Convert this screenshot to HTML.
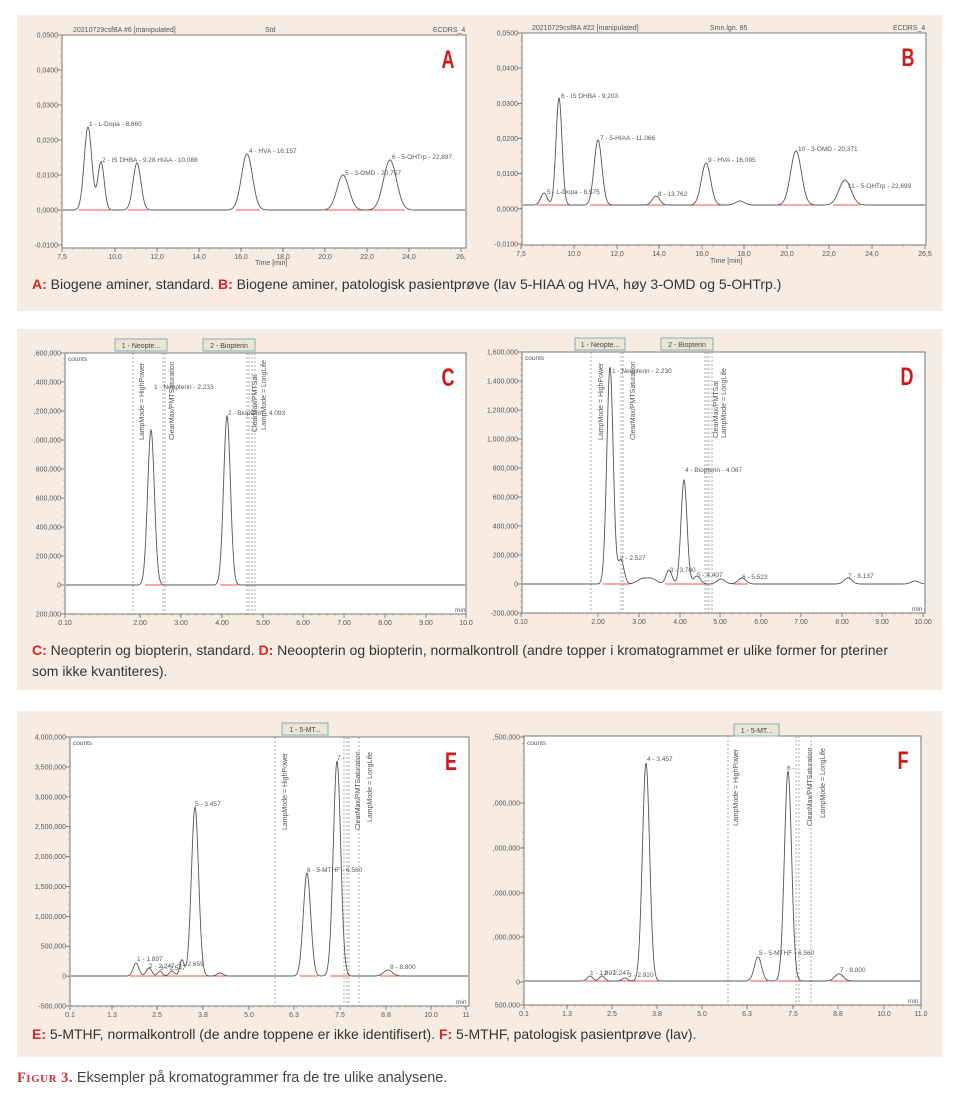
<!DOCTYPE html>
<html><head><meta charset="utf-8">
<style>
html,body{margin:0;padding:0;background:#fff;}
svg{display:block;font-family:"Liberation Sans",sans-serif;}
</style></head>
<body>
<svg id="s" width="960" height="1104" viewBox="0 0 960 1104" xmlns="http://www.w3.org/2000/svg">
<rect x="17" y="15" width="925" height="296" fill="#f8ece2"/>
<rect x="17" y="329" width="925" height="361" fill="#f8ece2"/>
<rect x="17" y="711" width="925" height="346" fill="#f8ece2"/>
<g id="charts"></g>
<g font-size="14" fill="#333">
<text x="32" y="289"><tspan fill="#d22" font-weight="bold">A:</tspan> Biogene aminer, standard. <tspan fill="#d22" font-weight="bold">B:</tspan> Biogene aminer, patologisk pasientprøve (lav 5-HIAA og HVA, høy 3-OMD og 5-OHTrp.)</text>
<text x="32" y="655"><tspan fill="#d22" font-weight="bold">C:</tspan> Neopterin og biopterin, standard. <tspan fill="#d22" font-weight="bold">D:</tspan> Neoopterin og biopterin, normalkontroll (andre topper i kromatogrammet er ulike former for pteriner</text>
<text x="32" y="676">som ikke kvantiteres).</text>
<text x="32" y="1039"><tspan fill="#d22" font-weight="bold">E:</tspan> 5-MTHF, normalkontroll (de andre toppene er ikke identifisert). <tspan fill="#d22" font-weight="bold">F:</tspan> 5-MTHF, patologisk pasientprøve (lav).</text>
</g>
<text x="17" y="1082" font-size="14.4" fill="#444"><tspan fill="#c33" font-family="Liberation Serif,serif" font-weight="bold" letter-spacing="0.5">F<tspan font-size="11">IGUR</tspan> 3.</tspan> Eksempler på kromatogrammer fra de tre ulike analysene.</text>
</svg>
<script>
var NS="http://www.w3.org/2000/svg",G=document.getElementById("charts");
function el(t,a,txt){var e=document.createElementNS(NS,t);for(var k in a)e.setAttribute(k,a[k]);if(txt!==undefined)e.textContent=txt;G.appendChild(e);return e;}
function chart(c){
 el("rect",{x:c.x0,y:c.y0,width:c.x1-c.x0,height:c.y1-c.y0,fill:"#fff",stroke:"#777","stroke-width":1});
 c.yt.forEach(function(t){el("line",{x1:c.x0-4,x2:c.x0,y1:t[0],y2:t[0],stroke:"#666","stroke-width":0.8});
  el("text",{x:c.x0-4,y:t[0]+2.5,"font-size":7,"text-anchor":"end",fill:"#555"},t[1]);});
 for(var y=c.y0;y<=c.y1;y+=c.ym){el("line",{x1:c.x0-2,x2:c.x0,y1:y,y2:y,stroke:"#999","stroke-width":0.5});}
 c.xt.forEach(function(t){el("line",{x1:t[0],x2:t[0],y1:c.y1,y2:c.y1+4,stroke:"#666","stroke-width":0.8});
  el("text",{x:t[0],y:c.y1+11,"font-size":7,"text-anchor":"middle",fill:"#555"},t[1]);});
 for(var x=c.x0;x<=c.x1;x+=c.xm){el("line",{x1:x,x2:x,y1:c.y1,y2:c.y1+2,stroke:"#999","stroke-width":0.5});}
 (c.dash||[]).forEach(function(x){el("line",{x1:x,x2:x,y1:c.y0,y2:c.y1,stroke:"#999","stroke-width":0.8,"stroke-dasharray":"2,2"});});
 (c.red||[]).forEach(function(r){el("line",{x1:r[0],x2:r[1],y1:c.z,y2:c.z,stroke:"#e55",'stroke-width':1});});
 var d="";for(var x=c.x0+1;x<=c.x1-1;x+=0.5){var y=c.base;c.p.forEach(function(p){y-=(c.base-p[1])*Math.exp(-Math.pow((x-p[0])/p[2],2)/2);});d+=(d?"L":"M")+x.toFixed(1)+" "+y.toFixed(1);}
 el("path",{d:d,fill:"none",stroke:"#555","stroke-width":0.9});
 (c.lab||[]).forEach(function(l){var e=el("text",{x:l[0],y:l[1],"font-size":l[3]||6.5,fill:"#555"},l[2]);if(l[4])e.setAttribute("transform","rotate(-90 "+l[0]+" "+l[1]+")");});
 var lx=c.x1-18,ly=c.y0+33;
 el("text",{x:0,y:0,"font-size":25,fill:"#d01818","font-weight":"bold","text-anchor":"middle",transform:"translate("+lx+" "+ly+") scale(0.72 1)"},c.L);
 (c.hdr||[]).forEach(function(h){el("rect",{x:h[0],y:h[1],width:h[2],height:12,fill:"#eae6d6",stroke:"#8ab"});el("text",{x:h[0]+h[2]/2,y:h[1]+9,"font-size":7,"text-anchor":"middle",fill:"#444"},h[3]);});
}
function ticks(a,b,n,labs){var r=[];for(var i=0;i<labs.length;i++)r.push([a+(b-a)*i/(labs.length-1),labs[i]]);return r;}
chart({L:"A",x0:62,y0:35,x1:466,y1:248,z:210,base:210,ym:7,xm:10.5,
 yt:ticks(35,245,0,["0,0500","0,0400","0,0300","0,0200","0,0100","0,0000","-0,0100"]),
 xt:[[62,"7,5"],[115,"10,0"],[157,"12,0"],[199,"14,0"],[241,"16,0"],[283,"18,0"],[325,"20,0"],[367,"22,0"],[409,"24,0"],[461,"26,"]],
 p:[[88,127,3.8],[101,162,3.2],[137,163,3.9],[247,154,5.5],[343,175,6],[390,160,6.5]],
 red:[[79,110],[128,148],[236,260],[325,405]],
 lab:[[89,126,"1 - L-Dopa - 8,660"],[102,162,"2 - IS DHBA - 9,28 HIAA - 10,088"],[249,153,"4 - HVA - 16,157"],[345,175,"5 - 3-OMD - 20,757"],[392,159,"6 - 5-OHTrp - 22,897"],
 [73,32,"20210729csfBA #6 [manipulated]",7],[265,32,"Std",7],[433,32,"ECDRS_4",7],[255,265,"Time [min]",7]]});
chart({L:"B",x0:522,y0:33,x1:926,y1:245,z:205,base:205,ym:7,xm:10.6,
 yt:ticks(33,244,0,["0,0500","0,0400","0,0300","0,0200","0,0100","0,0000","-0,0100"]),
 xt:[[521,"7,5"],[574,"10,0"],[617,"12,0"],[659,"14,0"],[702,"16,0"],[744,"18,0"],[787,"20,0"],[829,"22,0"],[872,"24,0"],[925,"26,5"]],
 p:[[544,193,3.2],[559,98,3],[598,140,3.9],[656,196,3.7],[706,163,4.6],[740,201,4.3],[796,151,5.4],[845,180,6]],
 red:[[537,570],[590,612],[645,665],[690,722],[778,818],[833,860]],
 lab:[[547,194,"5 - L-Dopa - 8,575"],[561,98,"6 - IS DHBA - 9,203"],[600,140,"7 - 5-HIAA - 11,066"],[658,196,"8 - 13,762"],[708,162,"9 - HVA - 16,095"],[798,151,"10 - 3-OMD - 20,371"],[848,188,"11 - 5-OHTrp - 22,699"],
 [532,30,"20210729csfBA #22 [manipulated]",7],[710,30,"Smn.lgn. 85",7],[893,30,"ECDRS_4",7],[710,263,"Time [min]",7]]});
chart({L:"C",x0:65,y0:353,x1:466,y1:614,z:585,base:585,ym:5.8,xm:8.2,
 yt:ticks(353,614,0,[",600,000",",400,000",",200,000",",000,000","800,000","600,000","400,000","200,000","0","200,000"]),
 xt:[[65,"0.10"],[140,"2.00"],[181,"3.00"],[222,"4.00"],[263,"5.00"],[303,"6.00"],[344,"7.00"],[385,"8.00"],[426,"9.00"],[466,"10.0"]],
 dash:[133,163,165,247,249,252,255],red:[[145,162],[220,238]],
 p:[[151,430,3.4],[227,416,3.4]],
 lab:[[154,389,"1 - Neopterin - 2.233"],[228,415,"2 - Biopterin - 4.093"],[144,440,"LampMode = HighPower",7,1],[174,440,"ClearMax/PMTSaturation",7,1],[257,432,"ClearMax/PMTSat",7,1],[266,430,"LampMode = LongLife",7,1],[68,361,"counts",6.5],[455,612,"min",6.5]],
 hdr:[[115,339,52,"1 - Neopte..."],[203,339,52,"2 - Biopterin"]]});
chart({L:"D",x0:522,y0:352,x1:925,y1:613,z:584,base:584,ym:5.8,xm:8.1,
 yt:ticks(352,613,0,["1,600,000","1,400,000","1,200,000","1,000,000","800,000","600,000","400,000","200,000","0","-200,000"]),
 xt:[[521,"0.10"],[598,"2.00"],[639,"3.00"],[680,"4.00"],[720,"5.00"],[761,"6.00"],[801,"7.00"],[842,"8.00"],[882,"9.00"],[923,"10.00"]],
 dash:[591,621,623,705,707,709,712],red:[[603,630],[665,710],[733,748]],
 p:[[610,367,3.2],[621,560,3],[642,579,5],[652,579,5],[669,570,3],[684,480,3],[697,576,3.5],[721,579,4],[742,578,4],[848,578,4],[915,581,4]],
 lab:[[612,373,"1 - Neopterin - 2.230"],[620,560,"2 - 2.527"],[670,572,"3 - 3.760"],[685,472,"4 - Biopterin - 4.087"],[697,577,"5 - 4.407"],[742,579,"6 - 5.523"],[848,578,"7 - 8.137"],[603,440,"LampMode = HighPower",7,1],[635,440,"ClearMax/PMTSaturation",7,1],[718,438,"ClearMax/PMTSat",7,1],[726,438,"LampMode = LongLife",7,1],[525,360,"counts",6.5],[912,611,"min",6.5]],
 hdr:[[575,338,50,"1 - Neopte..."],[661,338,52,"2 - Biopterin"]]});
chart({L:"E",x0:70,y0:737,x1:469,y1:1006,z:976,base:976,ym:6,xm:7.3,
 yt:ticks(737,1006,0,["4,000,000","3,500,000","3,000,000","2,500,000","2,000,000","1,500,000","1,000,000","500,000","0","-500,000"]),
 xt:[[70,"0.1"],[112,"1.3"],[157,"2.5"],[203,"3.8"],[249,"5.0"],[294,"6.3"],[340,"7.5"],[386,"8.8"],[431,"10.0"],[466,"11"]],
 dash:[275,344,347,349,359],red:[[130,245],[300,318],[330,350],[380,400]],
 p:[[136,963,2.8],[149,968,2.8],[160,971,2.2],[172,971,2.7],[182,960,2.2],[195,807,3.6],[220,973,3],[307,873,3.7],[337,761,3.7],[388,970,4.3]],
 lab:[[137,961,"1 - 1.897"],[149,968,"2 - 2.247"],[160,970,"3 - 2.547"],[178,966,"4 - 2.659"],[195,806,"5 - 3.457"],[307,872,"6 - 5-MTHF - 6,560"],[337,760,"7 -"],[390,969,"8 - 8.800"],[287,830,"LampMode = HighPower",7,1],[360,830,"ClearMax/PMTSaturation",7,1],[372,822,"LampMode = LongLife",7,1],[73,745,"counts",6.5],[456,1004,"min",6.5]],
 hdr:[[282,723,46,"1 - 5-MT..."]]});
chart({L:"F",x0:524,y0:736,x1:921,y1:1005,z:981,base:981,ym:7.4,xm:7.3,
 yt:[[737,",500,000"],[803,",000,000"],[848,",000,000"],[893,",000,000"],[937,",000,000"],[982,"0"],[1005,"500,000"]],
 xt:[[524,"0.1"],[567,"1.3"],[612,"2.5"],[657,"3.8"],[702,"5.0"],[747,"6.3"],[793,"7.5"],[838,"8.8"],[884,"10.0"],[921,"11.0"]],
 dash:[728,796,799,811],red:[[585,660],[750,768],[777,802],[830,858]],
 p:[[590,976,2.7],[602,976,2.7],[625,978,2.7],[646,763,3.6],[758,957,3.6],[788,771,3.6],[839,974,4.3]],
 lab:[[590,975,"1 - 1.897"],[604,975,"2 - 2.247"],[628,977,"3 - 2.920"],[647,761,"4 - 3.457"],[759,955,"5 - 5-MTHF - 6,560"],[787,770,"6 -"],[840,972,"7 - 8.800"],[738,826,"LampMode = HighPower",7,1],[812,826,"ClearMax/PMTSaturation",7,1],[825,818,"LampMode = LongLife",7,1],[527,745,"counts",6.5],[908,1003,"min",6.5]],
 hdr:[[734,724,45,"1 - 5-MT..."]]});
</script>
</body></html>
